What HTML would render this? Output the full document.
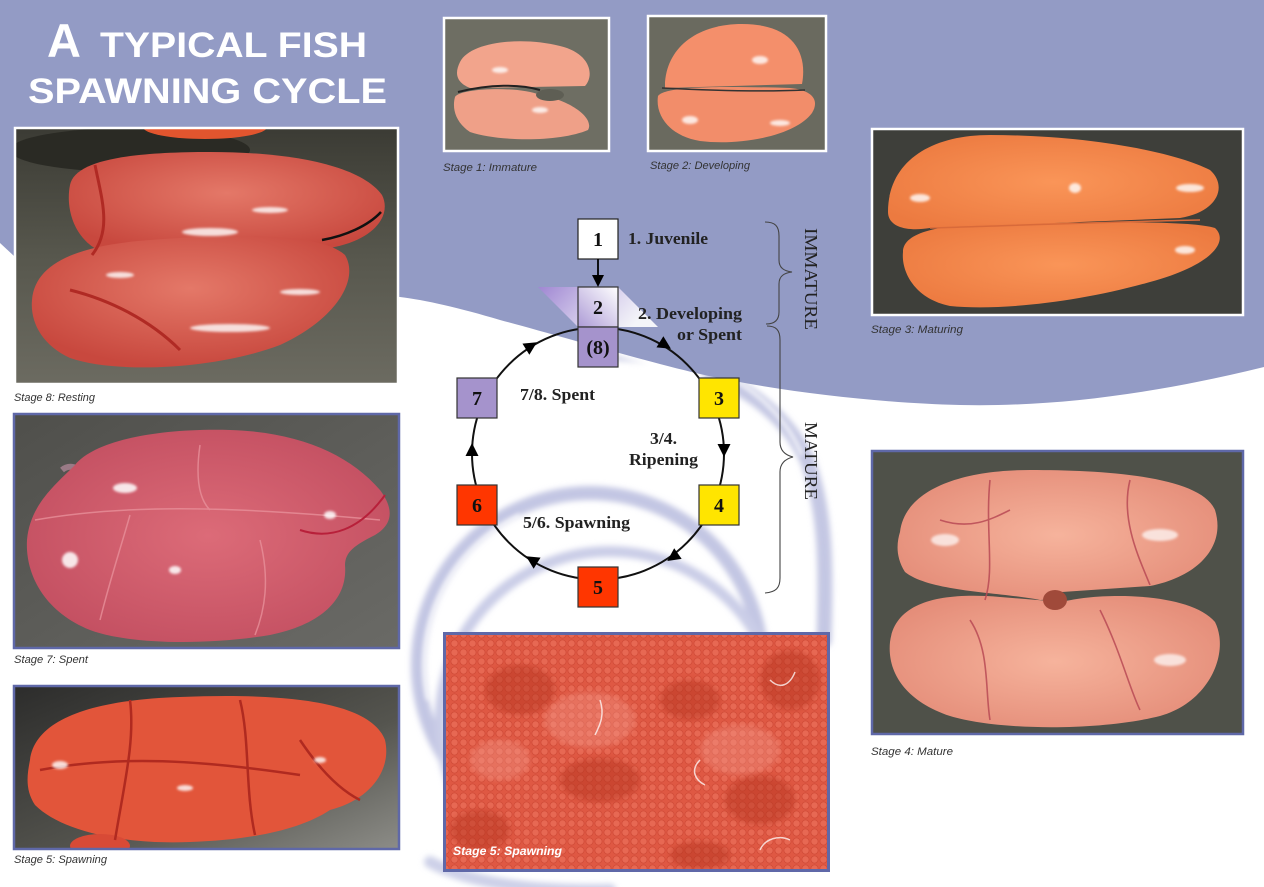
<!DOCTYPE html>
<html><head><meta charset="utf-8"><style>
html,body{margin:0;padding:0;background:#fff;}
svg{display:block;}
</style></head><body>
<svg xmlns="http://www.w3.org/2000/svg" width="1264" height="887" viewBox="0 0 1264 887">
<defs>
  <filter id="blur" x="-20%" y="-20%" width="140%" height="140%"><feGaussianBlur stdDeviation="2.5"/></filter>
  <filter id="blur2" x="-20%" y="-20%" width="140%" height="140%"><feGaussianBlur stdDeviation="3"/></filter>
  <filter id="soft" x="-10%" y="-10%" width="120%" height="120%"><feGaussianBlur stdDeviation="1.2"/></filter>
  <linearGradient id="para" x1="0" y1="0" x2="1" y2="0.3">
    <stop offset="0" stop-color="#9f86d2"/>
    <stop offset="0.45" stop-color="#c9bde6"/>
    <stop offset="1" stop-color="#ffffff" stop-opacity="0.9"/>
  </linearGradient>
  <linearGradient id="box2" x1="0" y1="1" x2="1" y2="0">
    <stop offset="0" stop-color="#ad9bd6"/>
    <stop offset="1" stop-color="#ffffff"/>
  </linearGradient>
  <linearGradient id="bg8" x1="0" y1="0" x2="0" y2="1">
    <stop offset="0" stop-color="#3b3b34"/><stop offset="0.5" stop-color="#57574d"/><stop offset="1" stop-color="#6c6b61"/>
  </linearGradient>
  <linearGradient id="bg7" x1="0" y1="0" x2="1" y2="1">
    <stop offset="0" stop-color="#4f4f4b"/><stop offset="1" stop-color="#6a6a66"/>
  </linearGradient>
  <linearGradient id="bg5" x1="0" y1="0" x2="1" y2="1">
    <stop offset="0" stop-color="#2c2c2b"/><stop offset="0.6" stop-color="#55554f"/><stop offset="1" stop-color="#8d8d88"/>
  </linearGradient>
  <radialGradient id="o8" cx="0.5" cy="0.4" r="0.6">
    <stop offset="0" stop-color="#e47868"/><stop offset="1" stop-color="#c8483e"/>
  </radialGradient>
  <radialGradient id="o7" cx="0.5" cy="0.5" r="0.6">
    <stop offset="0" stop-color="#dc6b78"/><stop offset="1" stop-color="#c24e60"/>
  </radialGradient>
  <radialGradient id="o4" cx="0.5" cy="0.5" r="0.6">
    <stop offset="0" stop-color="#f6b39c"/><stop offset="1" stop-color="#e48c78"/>
  </radialGradient>
  <radialGradient id="o3" cx="0.5" cy="0.5" r="0.6">
    <stop offset="0" stop-color="#fa9558"/><stop offset="1" stop-color="#ec7a40"/>
  </radialGradient>
  <pattern id="eggs" width="9" height="9" patternUnits="userSpaceOnUse">
    <circle cx="4.5" cy="4.5" r="3.6" fill="#ec7460" stroke="#c5412f" stroke-width="0.8" opacity="0.55"/>
  </pattern>
</defs>

<!-- background -->
<rect width="1264" height="887" fill="#ffffff"/>

<!-- swirl -->
<g filter="url(#blur2)" fill="none" stroke-linecap="round">
  <path d="M600,352 C700,354 780,397 808,462 C826,512 826,562 824,640" stroke="#c4c7e3" stroke-width="15"/>
  <path d="M504,814 A172,172 0 1 1 756,710" stroke="#c3c6e3" stroke-width="14"/>
  <path d="M501,852 A170,170 0 1 1 780,722" stroke="#cacde7" stroke-width="11"/>
  <path d="M430,862 C470,884 540,892 610,890" stroke="#cdd0e8" stroke-width="12"/>
  <path d="M402,300 C520,322 610,350 700,372" stroke="#ffffff" stroke-width="10"/>
</g>
<g filter="url(#blur)" fill="none" stroke="#ffffff" stroke-width="4" opacity="0.75">
  <path d="M606,346 C700,348 775,390 802,455"/>
  <path d="M428,700 A165,165 0 0 1 520,515"/>
</g>

<!-- blue wave -->
<path d="M0,0 H1264 V367 C1150,395 1050,407 960,405 C880,403 780,392 700,374 C640,360 560,336 500,320 C460,308 425,300 400,297 L14,256 L0,243 Z" fill="#939bc5"/>

<!-- Title -->
<g fill="#ffffff" font-family="'Liberation Sans', sans-serif" font-weight="bold">
  <text x="47" y="57" font-size="47">A</text>
  <text x="100" y="57" font-size="35" textLength="267" lengthAdjust="spacingAndGlyphs">TYPICAL FISH</text>
  <text x="28" y="103" font-size="35" textLength="359" lengthAdjust="spacingAndGlyphs">SPAWNING CYCLE</text>
</g>

<!-- Stage 8 photo -->
<svg x="14" y="127" width="385" height="258" viewBox="14 127 385 258">
  <rect x="14" y="127" width="385" height="258" fill="url(#bg8)"/>
  <ellipse cx="130" cy="150" rx="120" ry="22" fill="#2a2a24"/>
  <ellipse cx="205" cy="127" rx="62" ry="12" fill="#e2552e"/>
  <path d="M70,185 C75,160 130,152 210,152 C290,152 360,165 382,195 C392,215 375,240 330,248 L110,255 C75,245 65,210 70,185 Z" fill="url(#o8)"/>
  <path d="M32,300 C35,262 80,245 150,240 C230,234 320,232 345,255 C360,280 335,320 280,345 C220,368 120,375 70,358 C42,345 30,322 32,300 Z" fill="url(#o8)"/>
  <path d="M95,165 C102,200 112,230 92,255 M70,290 C110,300 150,320 180,350" stroke="#b02a24" stroke-width="3" fill="none"/>
  <path d="M322,240 C345,236 368,226 381,212" stroke="#111" stroke-width="2.5" fill="none"/>
  <g fill="#ffffff" opacity="0.8" filter="url(#soft)">
    <ellipse cx="210" cy="232" rx="28" ry="4"/>
    <ellipse cx="270" cy="210" rx="18" ry="3"/>
    <ellipse cx="230" cy="328" rx="40" ry="4"/>
    <ellipse cx="300" cy="292" rx="20" ry="3"/>
    <ellipse cx="120" cy="275" rx="14" ry="3"/>
  </g>
</svg>
<rect x="15" y="128" width="383" height="256" fill="none" stroke="#ffffff" stroke-width="2.5"/>

<!-- Stage 7 photo -->
<svg x="13" y="413" width="387" height="236" viewBox="13 413 387 236">
  <rect x="13" y="413" width="387" height="236" fill="url(#bg7)"/>
  <path d="M62,470 C68,465 76,466 82,472" stroke="#9a7a86" stroke-width="6" fill="none"/>
  <path d="M75,465 C95,440 160,428 230,430 C300,432 350,455 380,490 C395,510 392,525 375,535 C355,545 345,552 345,565 C348,600 320,625 270,635 C210,645 130,645 90,630 C45,612 25,575 27,540 C30,505 55,485 75,465 Z" fill="url(#o7)"/>
  <g stroke="#e8909a" stroke-width="1.5" fill="none" opacity="0.8">
    <path d="M35,520 C120,505 220,505 380,520"/>
    <path d="M200,445 C195,480 200,500 210,510"/>
    <path d="M130,515 C120,550 110,580 100,620"/>
    <path d="M260,540 C270,580 265,610 255,635"/>
  </g>
  <path d="M300,530 C330,540 360,530 385,495" stroke="#b8203a" stroke-width="2" fill="none"/>
  <g fill="#ffffff" opacity="0.85" filter="url(#soft)">
    <ellipse cx="125" cy="488" rx="12" ry="5"/>
    <ellipse cx="70" cy="560" rx="8" ry="8"/>
    <ellipse cx="330" cy="515" rx="6" ry="4"/>
    <ellipse cx="175" cy="570" rx="6" ry="4"/>
  </g>
</svg>
<rect x="14" y="414" width="385" height="234" fill="none" stroke="#5f68a8" stroke-width="2.5"/>

<!-- Stage 5 left photo -->
<svg x="13" y="685" width="387" height="165" viewBox="13 685 387 165">
  <rect x="13" y="685" width="387" height="165" fill="url(#bg5)"/>
  <path d="M30,760 C35,720 90,700 180,697 C280,693 370,700 385,740 C392,770 370,800 330,810 C300,830 250,840 190,842 C120,845 60,830 35,805 C25,790 27,775 30,760 Z" fill="#e2553a"/>
  <ellipse cx="100" cy="846" rx="30" ry="12" fill="#d84a36"/>
  <g stroke="#b02a20" stroke-width="2.5" fill="none">
    <path d="M40,770 C120,755 200,760 300,775"/>
    <path d="M130,700 C135,740 125,780 115,840"/>
    <path d="M240,700 C250,740 245,790 255,835"/>
    <path d="M300,740 C320,770 340,790 360,800"/>
  </g>
  <g fill="#ffffff" opacity="0.8" filter="url(#soft)">
    <ellipse cx="60" cy="765" rx="8" ry="4"/>
    <ellipse cx="185" cy="788" rx="8" ry="3"/>
    <ellipse cx="320" cy="760" rx="6" ry="3"/>
  </g>
</svg>
<rect x="14" y="686" width="385" height="163" fill="none" stroke="#5f68a8" stroke-width="2.5"/>

<!-- Stage 5 center photo -->
<svg x="443" y="632" width="387" height="240" viewBox="443 632 387 240">
  <rect x="443" y="632" width="387" height="240" fill="#df5843"/>
  <rect x="443" y="632" width="387" height="240" fill="url(#eggs)"/>
  <g fill="#b3301f" opacity="0.45" filter="url(#blur2)">
    <ellipse cx="520" cy="690" rx="35" ry="25"/>
    <ellipse cx="690" cy="700" rx="30" ry="20"/>
    <ellipse cx="790" cy="680" rx="30" ry="30"/>
    <ellipse cx="600" cy="780" rx="40" ry="22"/>
    <ellipse cx="760" cy="800" rx="35" ry="25"/>
    <ellipse cx="480" cy="830" rx="30" ry="20"/>
    <ellipse cx="700" cy="855" rx="30" ry="14"/>
  </g>
  <g fill="#f7a092" opacity="0.35" filter="url(#blur2)">
    <ellipse cx="590" cy="720" rx="45" ry="28"/>
    <ellipse cx="740" cy="750" rx="40" ry="25"/>
    <ellipse cx="500" cy="760" rx="30" ry="20"/>
  </g>
  <g stroke="#ffffff" stroke-width="1.5" fill="none" opacity="0.75">
    <path d="M700,760 C690,770 695,780 705,785"/>
    <path d="M770,680 C780,690 790,685 795,672"/>
    <path d="M600,700 C605,715 600,725 595,735"/>
    <path d="M760,850 C765,838 780,835 790,840"/>
  </g>
  <text x="453" y="855" font-family="'Liberation Sans', sans-serif" font-style="italic" font-weight="bold" font-size="12" fill="#ffffff" textLength="109" lengthAdjust="spacingAndGlyphs">Stage 5: Spawning</text>
</svg>
<rect x="444.5" y="633.5" width="384" height="237" fill="none" stroke="#5f68a8" stroke-width="3"/>

<!-- Stage 1 photo -->
<svg x="443" y="17" width="167" height="135" viewBox="443 17 167 135">
  <rect x="443" y="17" width="167" height="135" fill="#6e6e63"/>
  <path d="M460,62 C470,42 520,36 560,46 C590,53 595,75 585,86 L470,88 C455,82 455,72 460,62 Z" fill="#f2a48c"/>
  <path d="M455,97 C460,88 520,86 540,95 C570,100 595,118 588,130 C560,142 500,142 470,132 C455,122 452,108 455,97 Z" fill="#efa088"/>
  <path d="M458,92 C490,84 520,84 540,90" stroke="#222" stroke-width="2" fill="none"/>
  <ellipse cx="550" cy="95" rx="14" ry="6" fill="#5e5e54"/>
  <g fill="#fff" opacity="0.8" filter="url(#soft)">
    <ellipse cx="500" cy="70" rx="8" ry="3"/><ellipse cx="540" cy="110" rx="8" ry="3"/>
  </g>
</svg>
<rect x="444" y="18" width="165" height="133" fill="none" stroke="#ffffff" stroke-width="2.5"/>

<!-- Stage 2 photo -->
<svg x="647" y="15" width="180" height="137" viewBox="647 15 180 137">
  <rect x="647" y="15" width="180" height="137" fill="#6a6a5f"/>
  <path d="M665,82 C668,45 700,24 742,24 C792,24 808,52 802,84 L665,88 Z" fill="#f48f6b"/>
  <path d="M658,96 C665,86 720,86 790,88 C812,90 820,100 812,113 C795,136 740,146 700,141 C670,136 655,116 658,96 Z" fill="#f28d6a"/>
  <path d="M662,88 C700,90 760,92 805,90" stroke="#333" stroke-width="1.5" fill="none"/>
  <g fill="#fff" opacity="0.8" filter="url(#soft)">
    <ellipse cx="760" cy="60" rx="8" ry="4"/><ellipse cx="690" cy="120" rx="8" ry="4"/><ellipse cx="780" cy="123" rx="10" ry="3"/>
  </g>
</svg>
<rect x="648" y="16" width="178" height="135" fill="none" stroke="#ffffff" stroke-width="2.5"/>

<!-- Stage 3 photo -->
<svg x="871" y="128" width="373" height="188" viewBox="871 128 373 188">
  <rect x="871" y="128" width="373" height="188" fill="#3e3f3a"/>
  <path d="M888,212 C888,162 930,135 990,135 C1080,135 1170,150 1210,170 C1228,186 1218,212 1180,218 L930,228 C905,232 888,226 888,212 Z" fill="url(#o3)"/>
  <path d="M903,252 C903,232 940,224 1000,224 C1080,222 1190,220 1215,228 C1230,242 1210,266 1150,282 C1080,302 1000,311 950,306 C915,299 901,272 903,252 Z" fill="url(#o3)"/>
  <path d="M930,228 C1000,226 1100,222 1200,220" stroke="#d86a3a" stroke-width="1.5" fill="none"/>
  <g fill="#fff" opacity="0.8" filter="url(#soft)">
    <ellipse cx="920" cy="198" rx="10" ry="4"/><ellipse cx="1190" cy="188" rx="14" ry="4"/><ellipse cx="1185" cy="250" rx="10" ry="4"/><ellipse cx="1075" cy="188" rx="6" ry="5"/>
  </g>
</svg>
<rect x="872" y="129" width="371" height="186" fill="none" stroke="#ffffff" stroke-width="2.5"/>

<!-- Stage 4 photo -->
<svg x="871" y="450" width="373" height="285" viewBox="871 450 373 285">
  <rect x="871" y="450" width="373" height="285" fill="#4f5149"/>
  <path d="M900,532 C905,490 960,470 1030,470 C1100,470 1200,475 1215,510 C1226,545 1200,576 1150,586 L1062,592 C1052,596 1046,600 1040,600 C1000,592 930,592 905,572 C895,556 897,542 900,532 Z" fill="url(#o4)"/>
  <path d="M890,642 C895,602 940,592 1000,597 L1062,602 C1100,592 1190,592 1215,622 C1230,652 1210,702 1160,716 C1100,731 1000,731 950,716 C905,701 887,672 890,642 Z" fill="url(#o4)"/>
  <ellipse cx="1055" cy="600" rx="12" ry="10" fill="#a04a3a"/>
  <g stroke="#b94a55" stroke-width="1.6" fill="none" opacity="0.85">
    <path d="M990,480 C985,530 995,570 985,600"/>
    <path d="M970,620 C990,650 985,690 990,720"/>
    <path d="M1130,480 C1120,520 1140,560 1150,585"/>
    <path d="M1100,610 C1120,650 1130,690 1140,710"/>
    <path d="M940,520 C970,530 990,520 1010,510"/>
  </g>
  <g fill="#fff" opacity="0.7" filter="url(#soft)">
    <ellipse cx="945" cy="540" rx="14" ry="6"/><ellipse cx="1160" cy="535" rx="18" ry="6"/><ellipse cx="1170" cy="660" rx="16" ry="6"/>
  </g>
</svg>
<rect x="872" y="451" width="371" height="283" fill="none" stroke="#5f68a8" stroke-width="2.5"/>

<!-- Captions -->
<g font-family="'Liberation Sans', sans-serif" font-style="italic" font-size="11" fill="#333">
  <text x="14" y="401" textLength="81" lengthAdjust="spacingAndGlyphs">Stage 8: Resting</text>
  <text x="14" y="663" textLength="74" lengthAdjust="spacingAndGlyphs">Stage 7: Spent</text>
  <text x="14" y="863" textLength="93" lengthAdjust="spacingAndGlyphs">Stage 5: Spawning</text>
  <text x="443" y="171" textLength="94" lengthAdjust="spacingAndGlyphs">Stage 1: Immature</text>
  <text x="650" y="169" textLength="100" lengthAdjust="spacingAndGlyphs">Stage 2: Developing</text>
  <text x="871" y="333" textLength="92" lengthAdjust="spacingAndGlyphs">Stage 3: Maturing</text>
  <text x="871" y="755" textLength="82" lengthAdjust="spacingAndGlyphs">Stage 4: Mature</text>
</g>

<!-- Diagram -->
<circle cx="598" cy="453.5" r="126" fill="none" stroke="#111" stroke-width="2"/>

<!-- arrowheads -->
<g fill="#000">
  <polygon points="7,0 -6,-6.5 -6,6.5" transform="translate(665,345) rotate(32)"/>
  <polygon points="7,0 -6,-6.5 -6,6.5" transform="translate(724,450) rotate(90)"/>
  <polygon points="7,0 -6,-6.5 -6,6.5" transform="translate(673,557) rotate(145)"/>
  <polygon points="7,0 -6,-6.5 -6,6.5" transform="translate(532,560) rotate(212)"/>
  <polygon points="7,0 -6,-6.5 -6,6.5" transform="translate(472,450) rotate(270)"/>
  <polygon points="7,0 -6,-6.5 -6,6.5" transform="translate(531,346) rotate(328)"/>
</g>

<!-- parallelogram + box 2 + (8) -->
<polygon points="538,287 618,287 658,327 578,327" fill="url(#para)"/>
<rect x="578" y="287" width="40" height="40" fill="url(#box2)" stroke="#333" stroke-width="1.2"/>
<rect x="578" y="327" width="40" height="40" fill="#a593cc" stroke="#333" stroke-width="1.2"/>

<!-- box 1 and arrow -->
<rect x="578" y="219" width="40" height="40" fill="#ffffff" stroke="#222" stroke-width="1.2"/>
<line x1="598" y1="259" x2="598" y2="277" stroke="#000" stroke-width="1.8"/>
<polygon points="592,275 604,275 598,287" fill="#000"/>

<!-- other boxes -->
<rect x="457" y="378" width="40" height="40" fill="#a593cc" stroke="#333" stroke-width="1.2"/>
<rect x="699" y="378" width="40" height="40" fill="#ffe500" stroke="#333" stroke-width="1.2"/>
<rect x="457" y="485" width="40" height="40" fill="#ff3600" stroke="#333" stroke-width="1.2"/>
<rect x="699" y="485" width="40" height="40" fill="#ffe500" stroke="#333" stroke-width="1.2"/>
<rect x="578" y="567" width="40" height="40" fill="#ff3600" stroke="#333" stroke-width="1.2"/>

<g font-family="'Liberation Serif', serif" font-weight="bold" font-size="20" fill="#111" text-anchor="middle">
  <text x="598" y="246">1</text>
  <text x="598" y="314">2</text>
  <text x="598" y="354">(8)</text>
  <text x="477" y="405">7</text>
  <text x="719" y="405">3</text>
  <text x="477" y="512">6</text>
  <text x="719" y="512">4</text>
  <text x="598" y="594">5</text>
</g>

<g font-family="'Liberation Serif', serif" font-weight="bold" font-size="16.5" fill="#222">
  <text x="628" y="244" textLength="80" lengthAdjust="spacingAndGlyphs">1. Juvenile</text>
  <text x="638" y="319" textLength="104" lengthAdjust="spacingAndGlyphs">2. Developing</text>
  <text x="677" y="340" textLength="65" lengthAdjust="spacingAndGlyphs">or Spent</text>
  <text x="520" y="400" textLength="75" lengthAdjust="spacingAndGlyphs">7/8. Spent</text>
  <text x="650" y="444" textLength="27" lengthAdjust="spacingAndGlyphs">3/4.</text>
  <text x="629" y="465" textLength="69" lengthAdjust="spacingAndGlyphs">Ripening</text>
  <text x="523" y="528" textLength="107" lengthAdjust="spacingAndGlyphs">5/6. Spawning</text>
</g>

<!-- braces -->
<g fill="none" stroke="#444" stroke-width="1.1">
  <path d="M765,222 C775,222 779,226 779,236 L779,260 C779,268 784,271 792,272 C784,273 779,276 779,284 L779,312 C779,320 775,324 766,324"/>
  <path d="M767,326 C776,326 780,330 780,340 L780,442 C780,450 785,455 793,457 C785,459 780,464 780,472 L780,578 C780,588 776,592 765,593"/>
</g>

<g font-family="'Liberation Serif', serif" font-size="18" fill="#222">
  <text transform="translate(805,228) rotate(90)" textLength="102" lengthAdjust="spacingAndGlyphs">IMMATURE</text>
  <text transform="translate(805,422) rotate(90)" textLength="78" lengthAdjust="spacingAndGlyphs">MATURE</text>
</g>
</svg>
</body></html>
